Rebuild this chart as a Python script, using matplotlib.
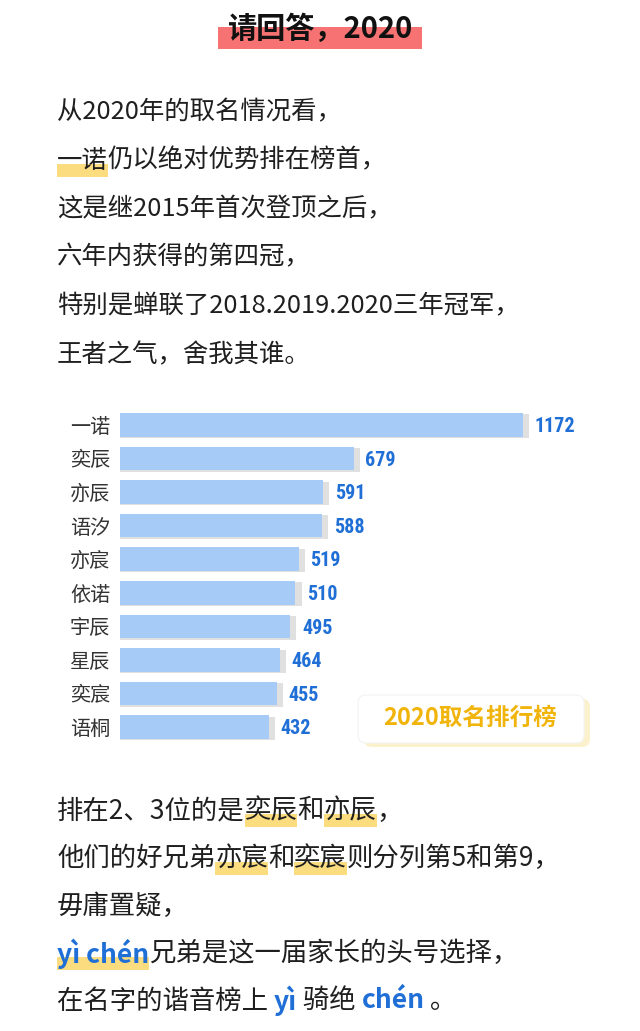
import matplotlib
matplotlib.use("Agg")
import matplotlib.pyplot as plt
from matplotlib import font_manager
from matplotlib.patches import Rectangle, FancyBboxPatch

plt.rcParams['font.family'] = ['Noto Sans CJK SC', 'DejaVu Sans']

# chart data
names = ["一诺", "奕辰", "亦辰", "语汐", "亦宸", "依诺", "宇辰", "星辰", "奕宸", "语桐"]
counts = [1172, 679, 591, 588, 519, 510, 495, 464, 455, 432]

title = "请回答，2020"
badge = "2020取名排行榜"

# text lines: (piece, style)  h = highlight, b = blue
top_lines = [
    [("从2020年的取名情况看，", "")],
    [("一诺", "h"), ("仍以绝对优势排在榜首，", "")],
    [("这是继2015年首次登顶之后，", "")],
    [("六年内获得的第四冠，", "")],
    [("特别是蝉联了2018.2019.2020三年冠军，", "")],
    [("王者之气，舍我其谁。", "")],
]
bottom_lines = [
    [("排在2、3位的是", ""), ("奕辰", "h"), ("和", ""), ("亦辰", "h"), ("，", "")],
    [("他们的好兄弟", ""), ("亦宸", "h"), ("和", ""), ("奕宸", "h"), ("则分列第5和第9，", "")],
    [("毋庸置疑，", "")],
    [("yì chén", "bh"), ("兄弟是这一届家长的头号选择，", "")],
    [("在名字的谐音榜上 ", ""), ("yì", "b"), (" 骑绝 ", ""), ("chén", "b"), (" 。", "")],
]

DARK = "#1f1f1f"
BLUE = "#1f6fd6"
YELLOW = "#fbdc7e"
BAR = "#a6cbf6"

W, H = 640, 1031
fig = plt.figure(figsize=(W / 100, H / 100), dpi=100)
fig.patch.set_facecolor("white")

# full-figure axes in pixel units (y down)
bg = fig.add_axes([0, 0, 1, 1])
bg.set_xlim(0, W)
bg.set_ylim(H, 0)
bg.axis("off")

renderer = fig.canvas.get_renderer()
inv = bg.transData.inverted()


def extent(t):
    bb = t.get_window_extent(renderer=renderer)
    (x0, y0), (x1, y1) = inv.transform([[bb.x0, bb.y0], [bb.x1, bb.y1]])
    return x0, x1


def put_line(x, y, pieces, size):
    for txt, style in pieces:
        blue = "b" in style
        t = bg.text(x, y, txt, fontsize=size, color=BLUE if blue else DARK,
                    fontweight="bold" if blue else "normal",
                    ha="left", va="center", zorder=3)
        x0, x1 = extent(t)
        if "h" in style:
            bg.add_patch(Rectangle((x0, y + 3), x1 - x0, 13, color=YELLOW,
                                   lw=0, zorder=2))
        x = x1


# title with red marker
tt = bg.text(320, 29, title, fontsize=21, fontweight="bold", color="#111111",
             ha="center", va="center", zorder=3)
tx0, tx1 = extent(tt)
bg.add_patch(Rectangle((tx0 - 9, 27), tx1 - tx0 + 18, 22, color="#f77272",
                       lw=0, zorder=2))

for i, line in enumerate(top_lines):
    put_line(57, 112 + i * 48.6, line, 18.3)

for i, line in enumerate(bottom_lines):
    put_line(57, 811 + i * 47.5, line, 19)

# badge
bg.add_patch(FancyBboxPatch((364, 699), 226, 48, boxstyle="round,pad=0,rounding_size=8",
                            fc="#fbf1cc", ec="none", zorder=1))
bg.add_patch(FancyBboxPatch((358, 695), 226, 48, boxstyle="round,pad=0,rounding_size=8",
                            fc="white", ec="#f3f3f3", lw=0.8, zorder=2))
bg.text(470, 718, badge, fontsize=17, fontweight="bold", color="#f1b40a",
        ha="center", va="center", zorder=3)

# bar chart
have = {f.name for f in font_manager.fontManager.ttflist}
num_font = "DejaVu Sans"
for cand in ["Liberation Sans Narrow", "Roboto Condensed"]:
    if cand in have:
        num_font = cand
        break

px_per_unit = 0.344
ax = fig.add_axes([120 / W, 1 - 744 / H, 480 / W, 336 / H])
ax.set_xlim(0, 480 / px_per_unit)
ypos = list(range(len(names)))
ax.barh([y + 0.04 for y in ypos], [c + 18 for c in counts], height=0.7,
        color="#e0e0e0", zorder=1)
ax.barh(ypos, counts, height=0.7, color=BAR, zorder=2)
ax.set_ylim(len(names) - 0.5, -0.5)
ax.set_yticks(ypos, names)
ax.set_xticks([])
ax.tick_params(axis="y", length=0, pad=7, labelsize=14.5, labelcolor="#333333")
for s in ax.spines.values():
    s.set_visible(False)
ax.patch.set_alpha(0)
for y, c in zip(ypos, counts):
    ax.text(c + 34, y + 0.05, str(c), fontsize=14.5, fontweight="bold",
            family=num_font, fontstretch="condensed", color=BLUE,
            ha="left", va="center")

fig.savefig("out.png", dpi=100)
